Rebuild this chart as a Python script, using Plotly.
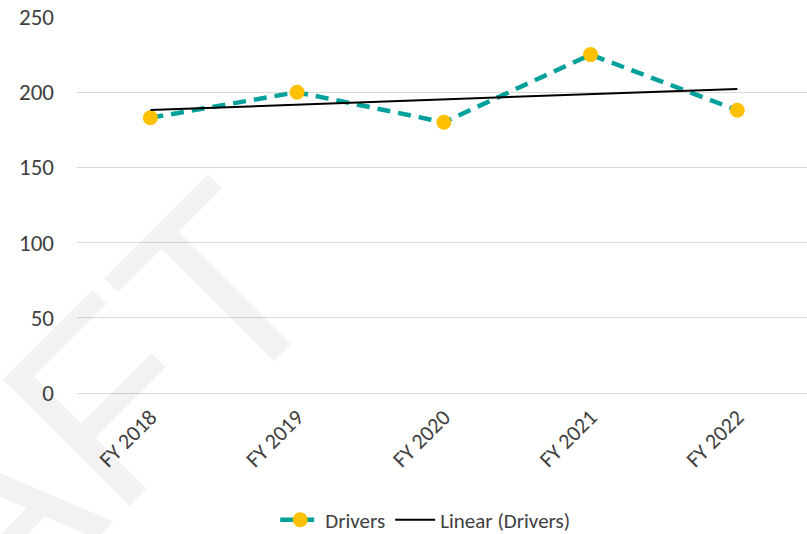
import numpy as np
import plotly.graph_objects as go

categories = ["FY 2018", "FY 2019", "FY 2020", "FY 2021", "FY 2022"]
drivers = [183, 200, 180, 225, 188]
y_ticks = [0, 50, 100, 150, 200, 250]

# Linear trendline (least squares, as in Excel "Linear (Drivers)")
xi = np.arange(len(drivers))
slope, intercept = np.polyfit(xi, drivers, 1)
trend = (slope * xi + intercept).tolist()

FONT = "Calibri, Carlito, 'Liberation Sans', Arial, sans-serif"
TEXT_COLOR = "#404040"

fig = go.Figure()
fig.add_trace(go.Scatter(
    x=categories, y=drivers, name="Drivers", mode="lines+markers",
    line=dict(color="#00A19A", width=4.5, dash="13px,8px"),
    marker=dict(color="#FFC000", size=15, line=dict(width=0)),
))
fig.add_trace(go.Scatter(
    x=categories, y=trend, name="Linear (Drivers)", mode="lines",
    line=dict(color="#000000", width=2),
))

fig.update_layout(
    width=807, height=534,
    margin=dict(l=77, r=0, t=17, b=141, autoexpand=False),
    paper_bgcolor="white", plot_bgcolor="white",
    font=dict(family=FONT, color=TEXT_COLOR, size=22),
    showlegend=True,
    legend=dict(orientation="h", x=0.477, xanchor="center", y=-0.338, yanchor="middle",
                font=dict(size=21, color=TEXT_COLOR), bgcolor="rgba(0,0,0,0)",
                traceorder="normal", itemwidth=40),
    xaxis=dict(type="category", range=[-0.5, 4.475], showgrid=False, zeroline=False,
               showline=False, ticks="", tickangle=-45, ticklabelstandoff=6,
               automargin=False, tickfont=dict(size=22, color=TEXT_COLOR)),
    yaxis=dict(range=[0, 250], tickvals=y_ticks, showgrid=True, gridcolor="#D9D9D9",
               gridwidth=1.3, zeroline=True, zerolinecolor="#D9D9D9", zerolinewidth=1.3,
               showline=False, ticks="", ticklabelstandoff=22, automargin=False,
               tickfont=dict(size=23, color=TEXT_COLOR)),
    annotations=[dict(
        text="DRAFT", xref="paper", yref="paper", x=-0.148, y=-0.387,
        xanchor="center", yanchor="middle", showarrow=False, textangle=-45,
        font=dict(family="'Liberation Sans', Arial, sans-serif", size=260,
                  color="rgba(0,0,0,0.05)"),
    )],
)

fig.write_html(
    "out.html",
    config={"displayModeBar": False},
    post_script="document.body.style.margin='0';document.body.style.overflow='hidden';",
)
